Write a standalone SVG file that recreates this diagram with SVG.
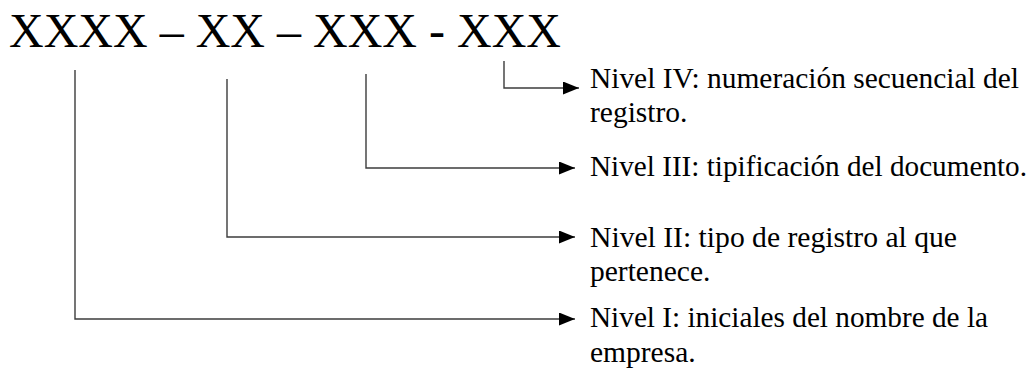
<svg xmlns="http://www.w3.org/2000/svg" width="1030" height="369" viewBox="0 0 1030 369">
<style>
text{font-family:"Liberation Serif","Times New Roman",serif;fill:#000}
.title{font-size:48px}
.lbl{font-size:29.5px}
.c{fill:none;stroke:#3c3c3c;stroke-width:1.4}
</style>
<defs>
<marker id="ah" markerWidth="16" markerHeight="13" refX="16" refY="6.5" orient="auto" markerUnits="userSpaceOnUse">
<path d="M0,0 L16,6.5 L0,13 Z" fill="#000"/>
</marker>
</defs>
<g id="code"><text class="title" x="9" y="47">XXXX – XX – XXX - XXX</text></g>
<g id="connectors">
<path class="c" d="M504,61 V88 H579" marker-end="url(#ah)"/>
<path class="c" d="M366,74 V168 H575" marker-end="url(#ah)"/>
<path class="c" d="M227,79 V237 H575" marker-end="url(#ah)"/>
<path class="c" d="M75,70 V319 H575" marker-end="url(#ah)"/>
</g>
<g id="nivel4">
<text class="lbl" x="590" y="88" textLength="429" lengthAdjust="spacingAndGlyphs">Nivel IV: numeración secuencial del</text>
<text class="lbl" x="590" y="122">registro.</text>
</g>
<g id="nivel3">
<text class="lbl" x="590" y="176" textLength="437" lengthAdjust="spacingAndGlyphs">Nivel III: tipificación del documento.</text>
</g>
<g id="nivel2">
<text class="lbl" x="590" y="247" textLength="367" lengthAdjust="spacingAndGlyphs">Nivel II: tipo de registro al que</text>
<text class="lbl" x="590" y="281">pertenece.</text>
</g>
<g id="nivel1">
<text class="lbl" x="590" y="327" textLength="398" lengthAdjust="spacingAndGlyphs">Nivel I: iniciales del nombre de la</text>
<text class="lbl" x="590" y="362">empresa.</text>
</g>
</svg>
